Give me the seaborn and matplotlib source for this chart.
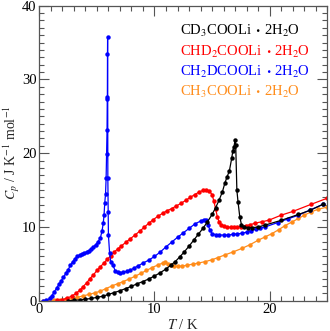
import matplotlib
matplotlib.use("Agg")
import matplotlib.pyplot as plt
import seaborn as sns
import pandas as pd
from matplotlib.ticker import MultipleLocator
from matplotlib.offsetbox import TextArea, HPacker, AnnotationBbox

# ---- data ----
blue_T = [0.3, 0.6, 0.9, 1.1, 1.3, 1.5, 1.7, 1.9, 2.1, 2.3, 2.5, 2.7, 2.9, 3.1, 3.3, 3.5, 3.7, 3.9,
          4.1, 4.3, 4.5, 4.7, 4.9, 5.1, 5.3, 5.45, 5.55, 5.62, 5.68, 5.75, 5.8, 5.84, 5.88, 5.9, 5.91,
          5.92, 5.93, 5.95, 5.98, 6.0, 6.1, 6.2, 6.4, 6.6, 6.8, 7.0, 7.3, 7.6, 7.9, 8.2, 8.6, 9.0, 9.5,
          10.0, 10.5, 11.0, 11.5, 12.0, 12.5, 13.0, 13.5, 14.0, 14.3, 14.5, 14.65, 14.8, 15.0, 15.3,
          15.6, 16.0, 16.4, 16.8, 17.2, 17.6, 18.0, 18.4, 18.8, 19.2, 19.6, 20.7, 21.6, 22.5, 23.5, 24.6]
blue_Cp = [0.0, 0.05, 0.3, 0.7, 1.2, 1.7, 2.2, 2.7, 3.2, 3.7, 4.2, 4.8, 5.3, 5.7, 6.0, 6.2, 6.35, 6.5,
           6.6, 6.8, 7.0, 7.3, 7.6, 8.0, 8.5, 9.5, 10.5, 11.6, 13.2, 14.5, 16.6, 19.85, 23.1, 27.4, 27.6,
           33.5, 35.7, 16.6, 12.0, 8.9, 6.5, 5.3, 4.8, 4.0, 3.85, 3.8, 3.85, 4.0, 4.15, 4.4, 4.75, 5.1, 5.5,
           6.0, 6.6, 7.3, 7.95, 8.6, 9.2, 9.8, 10.4, 10.8, 11.0, 10.9, 10.3, 9.6, 9.1, 8.95,
           8.9, 8.9, 8.9, 9.0, 9.05, 9.15, 9.3, 9.5, 9.7, 9.85, 10.0, 10.6, 11.1, 11.6, 12.3, 13.05]

red_T = [1.5, 2.0, 2.4, 2.8, 3.2, 3.5, 3.8, 4.1, 4.4, 4.7, 5.0, 5.3, 5.6, 5.9, 6.2, 6.5, 6.8, 7.1, 7.5,
         7.9, 8.3, 8.7, 9.1, 9.5, 9.9, 10.3, 10.7, 11.1, 11.5, 11.9, 12.3, 12.7, 13.1, 13.5, 13.9, 14.2,
         14.5, 14.75, 15.0, 15.15, 15.3, 15.45, 15.6, 15.8, 16.0, 16.3, 16.6, 16.9, 17.2, 17.5, 17.9,
         18.3, 18.7, 19.3, 19.9, 21.0, 22.0, 23.6, 25.0]
red_Cp = [0.05, 0.15, 0.35, 0.6, 1.0, 1.4, 1.9, 2.4, 3.0, 3.5, 4.1, 4.6, 5.1, 5.6, 6.1, 6.6, 7.0, 7.4, 7.9,
          8.4, 8.9, 9.4, 9.95, 10.5, 11.0, 11.45, 11.85, 12.2, 12.5, 12.85, 13.2, 13.6, 14.0, 14.4, 14.75, 14.95,
          15.0, 14.85, 14.4, 13.5, 12.5, 11.4, 10.7, 10.3, 10.1, 9.97, 9.95, 9.95, 9.97, 10.05, 10.17,
          10.3, 10.5, 10.7, 10.9, 11.6, 12.1, 13.07, 13.9]

black_T = [2.5, 3.0, 3.5, 4.0, 4.5, 5.0, 5.5, 6.0, 6.5, 7.0, 7.5, 8.0, 8.5, 9.0, 9.5, 10.0, 10.5, 11.0,
           11.4, 11.8, 12.2, 12.6, 13.0, 13.4, 13.8, 14.2, 14.6, 15.0, 15.3, 15.6, 15.9, 16.1, 16.3, 16.5,
           16.7, 16.8, 16.9, 17.0, 17.05, 17.15, 17.25, 17.4, 17.55, 17.8, 18.1, 18.5, 19.0, 19.6, 21.0,
           22.5, 23.5, 24.6]
black_Cp = [0.0, 0.05, 0.1, 0.2, 0.3, 0.45, 0.6, 0.85, 1.1, 1.35, 1.65, 1.95, 2.3, 2.6, 2.95, 3.35, 3.8, 4.3,
            4.8, 5.3, 5.95, 6.65, 7.4, 8.2, 9.0, 9.8, 10.7, 11.7, 12.6, 13.6, 14.8, 15.9, 16.8, 17.6,
            19.3, 20.3, 20.9, 21.8, 21.1, 15.0, 13.4, 11.4, 10.3, 9.95, 9.9, 9.9, 10.0, 10.25, 10.9,
            11.7, 12.25, 13.05]

orange_T = [0.3, 0.8, 1.3, 1.8, 2.3, 2.8, 3.3, 3.8, 4.3, 4.8, 5.3, 5.8, 6.3, 6.8, 7.3, 7.8, 8.3, 8.8, 9.3,
            9.8, 10.3, 10.7, 10.95, 11.15, 11.4, 11.7, 12.0, 12.4, 12.8, 13.3, 13.8, 14.4, 15.0, 15.5,
            16.1, 16.8, 17.6, 18.3, 19.0, 19.6, 20.2, 20.8, 21.3, 21.9, 22.5, 23.0, 23.6, 24.2, 25.0]
orange_Cp = [0.0, 0.02, 0.05, 0.1, 0.2, 0.3, 0.45, 0.65, 0.85, 1.05, 1.3, 1.65, 2.0, 2.3, 2.6, 2.95, 3.3,
             3.7, 4.1, 4.5, 4.85, 5.1, 5.25, 5.0, 4.85, 4.7, 4.65, 4.7, 4.8, 4.95, 5.1, 5.3, 5.55, 5.85,
             6.2, 6.6, 7.1, 7.6, 8.2, 8.65, 9.1, 9.65, 10.15, 10.65, 11.15, 11.6, 12.05, 12.4, 12.7]

label_heads = ["CD$_3$COOLi", "CHD$_2$COOLi", "CH$_2$DCOOLi", "CH$_3$COOLi"]
label_sep = "\u30fb"
label_tail = "2H$_2$O"
colors = ["#000000", "#ff0000", "#0000ff", "#ff8c1a"]

x_ticks = [0, 10, 20]
y_ticks = [0, 10, 20, 30, 40]

# ---- styling ----
sns.set_theme(style="ticks")
plt.rcParams['font.family'] = ['Liberation Serif', 'Noto Sans CJK JP', 'DejaVu Sans']
plt.rcParams['mathtext.fontset'] = 'stix'

fig = plt.figure(figsize=(3.30, 3.31), dpi=100)
ax = fig.add_axes([39.3 / 330, 1 - 300.7 / 331, 288 / 330, 295 / 331])

all_series = [(black_T, black_Cp, colors[0]), (red_T, red_Cp, colors[1]),
              (blue_T, blue_Cp, colors[2]), (orange_T, orange_Cp, colors[3])]
for idx in [3, 1, 2, 0]:
    T, C, col = all_series[idx]
    df = pd.DataFrame({"T": T, "Cp": C})
    sns.lineplot(data=df, x="T", y="Cp", ax=ax, sort=False, estimator=None,
                 color=col, lw=0.9, marker="o", markersize=3.2, markeredgewidth=0)

ax.set_xlim(0, 25)
ax.set_ylim(0, 40)
ax.set_xticks(x_ticks)
ax.set_yticks(y_ticks)
ax.xaxis.set_minor_locator(MultipleLocator(1))
ax.yaxis.set_minor_locator(MultipleLocator(1))
ax.tick_params(which='both', direction='in', top=True, right=True, colors='#555555',
               labelcolor='black', labelsize=10.5, width=0.8)
ax.tick_params(which='major', length=7, pad=2)
ax.tick_params(which='minor', length=3.5)
for s in ax.spines.values():
    s.set_color('#555555')
    s.set_linewidth(0.9)

ax.set_xlabel("$T$ / K", fontsize=10.5, labelpad=1)
ax.set_ylabel("$C_p$ / J K$^{-1}$ mol$^{-1}$", fontsize=10, labelpad=0)

ypos = [0.914, 0.843, 0.776, 0.708]
for head, col, yp in zip(label_heads, colors, ypos):
    parts = [
        TextArea(head, textprops=dict(color=col, fontsize=10.5)),
        TextArea(label_sep, textprops=dict(color=col, fontsize=9, family='Noto Sans CJK JP')),
        TextArea(label_tail, textprops=dict(color=col, fontsize=10.5)),
    ]
    box = HPacker(children=parts, align='baseline', pad=0, sep=0)
    ab = AnnotationBbox(box, (0.487, yp), xycoords='axes fraction', box_alignment=(0, 0.5),
                        frameon=False, pad=0)
    ax.add_artist(ab)

fig.savefig("out.png", dpi=100)
